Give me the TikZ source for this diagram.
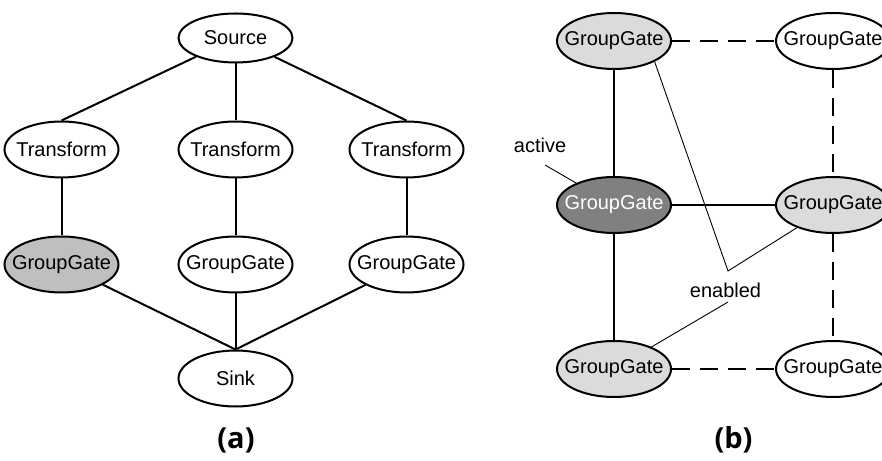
\documentclass[tikz,border=0pt]{standalone}
\usepackage{fontspec}
\setmainfont{Liberation Sans}
\newfontfamily\capfont{Open Sans}
\usetikzlibrary{shapes}
\usetikzlibrary{positioning}
\newcommand{\nt}[1]{\makebox[0pt]{#1}}

\begin{document}
\begin{tikzpicture}[x=1pt, y=1pt, line width=2pt,
  op/.style={ellipse, draw, inner sep=0pt, minimum width=114pt, minimum height=56pt,
    font=\fontsize{20}{24}\selectfont},
  light/.style={op, fill=black!14},
  dark/.style={op, fill=black!50, text=white},
  txt/.style={inner sep=0pt, font=\fontsize{20}{24}\selectfont},
  note/.style={line width=0.9pt},
  link/.style={dash pattern=on 18pt off 10pt},
  subcap/.style={font=\capfont\bfseries\fontsize{29}{34}\selectfont}]
  \useasboundingbox (0,0) rectangle (882,460);

  % (a) one source, three branches, one sink
  \node[op, minimum height=49pt] (src) at (235.5,422) {\nt{Source}};
  \node[op] (t2) [below=57pt of src] {\nt{Transform}};
  \node[op] (t1) [left=58pt of t2] {\nt{Transform}};
  \node[op] (t3) [right=55pt of t2] {\nt{Transform}};
  \node[op, fill=black!25] (g1) [below=57pt of t1] {\nt{GroupGate}};
  \node[op] (g2) [below=57pt of t2] {\nt{GroupGate}};
  \node[op] (g3) [below=57pt of t3] {\nt{GroupGate}};
  \node[op] (sink) [below=56pt of g2] {\nt{Sink}};

  \path
  (src) edge (t1.north)
  (src) edge (t2)
  (src) edge (t3.north)
  (t1) edge (g1)
  (t2) edge (g2)
  (t3) edge (g3)
  (g1) edge (sink.north)
  (g2) edge (sink)
  (g3) edge (sink.north);

  \node[subcap] (capa) at (236,20) {(a)};

  % (b) grid of gates
  \node[light] (b1) at (614,419) {\nt{GroupGate}};
  \node[op] (b2) [right=103pt of b1] {\nt{GroupGate}};
  \node[dark] (b3) [below=106pt of b1] {\nt{GroupGate}};
  \node[light] (b4) [right=103pt of b3] {\nt{GroupGate}};
  \node[light] (b5) [below=106pt of b3] {\nt{GroupGate}};
  \node[op] (b6) [right=103pt of b5] {\nt{GroupGate}};

  \path
  (b1) edge (b3)
  (b3) edge (b5)
  (b3) edge (b4);
  \path[link]
  (b1) edge (b2)
  (b2) edge (b4)
  (b4) edge (b6)
  (b5) edge (b6);

  % annotations
  \node[txt] (act) at (540,315) {active};
  \coordinate (actend) at (545,295);
  \draw[note] (actend) -- (b3);

  \node[txt] (enl) at (725.5,170) {enabled};
  \coordinate (en) at (728,189);
  \coordinate (enend) at (728,158);
  \draw[note] (b1.-27) -- (en) -- (b4);
  \draw[note] (enend) -- (b5);

  \node[subcap] (capb) at (733.5,20) {(b)};
\end{tikzpicture}
\end{document}
